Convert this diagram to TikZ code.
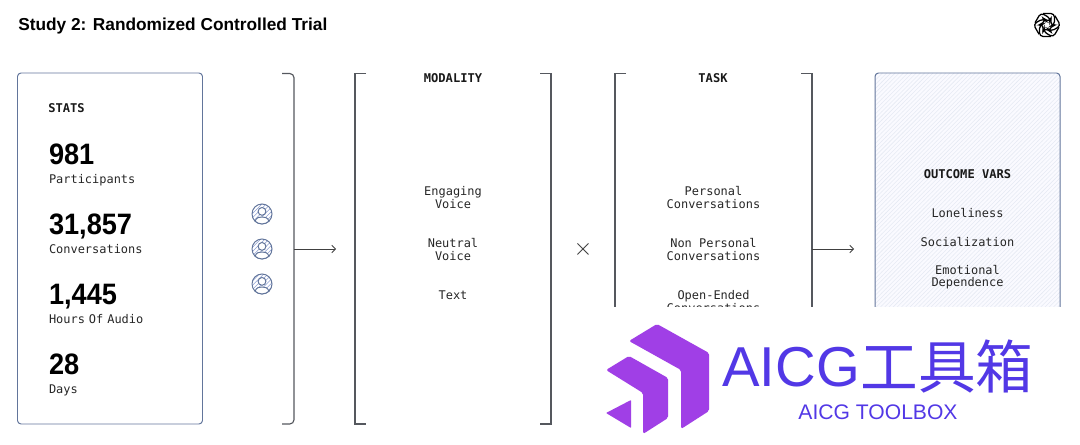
\documentclass[tikz,border=0pt]{standalone}
\usepackage{fontspec}
\usepackage{xcolor}
\usetikzlibrary{arrows.meta, positioning, patterns, calc}
\setmainfont{Liberation Sans}
\newfontfamily\monotext{DejaVu Sans Mono}
\newfontfamily\numtext[FakeStretch=0.92]{Liberation Sans}
\newfontfamily\logotext{Noto Sans CJK SC}
\definecolor{boxline}{HTML}{62759B}
\definecolor{hatchline}{HTML}{E6EAF3}
\definecolor{iconhatch}{HTML}{8E9FD2}
\definecolor{bracketline}{HTML}{55585E}
\definecolor{logopurple}{HTML}{A03FE6}
\definecolor{logoblue}{HTML}{5238E6}
\tikzstyle{statbox} = [rectangle, rounded corners=2.5pt, minimum width=185*0.025cm, minimum height=351*0.025cm, draw=boxline, line width=0.7pt, inner sep=0pt]
\tikzstyle{heading} = [font=\monotext\bfseries\fontsize{8.6}{9}\selectfont, text=black!90, inner sep=0pt]
\tikzstyle{bodytext} = [font=\monotext\fontsize{8.5}{8.7}\selectfont, text=black!85, align=center, inner sep=0pt]
\tikzstyle{statnum} = [font=\numtext\bfseries\fontsize{21}{21}\selectfont, text=black, text width=140*0.025cm, text height=15pt, text depth=3pt, inner sep=0pt]
\tikzstyle{statlab} = [font=\monotext\fontsize{8.5}{9}\selectfont, text=black!85, text width=140*0.025cm, text height=6.5pt, text depth=2pt, inner sep=0pt]
\tikzstyle{usericon} = [circle, minimum size=20*0.025cm, inner sep=0pt, draw=boxline, line width=0.7pt, pattern=north east lines, pattern color=iconhatch]
\tikzstyle{bracket} = [draw=bracketline, line width=0.8pt]
\tikzstyle{arrow} = [draw=black!75, line width=0.6pt, -{Straight Barb[length=2.6pt, width=5.5pt]}]
\begin{document}
\begin{tikzpicture}[x=0.025cm, y=-0.025cm, node distance=70*0.025cm]
\useasboundingbox (0,0) rectangle (1080,445);

% Title and mark
\node (title) [anchor=west, inner sep=0pt, font=\bfseries\fontsize{12.3}{14}\selectfont] at (18,26) {Study 2: Randomized Controlled Trial};
\coordinate (mark) at (1047,25);
\foreach \ang in {0,60,...,300} {
    \draw [black, line width=0.9pt, rounded corners=2.6pt, rotate around={\ang:(mark)}] ($(mark)+(-4,-11.5)$) -- ($(mark)+(7.5,-11.5)$) -- ($(mark)+(7.5,0)$) -- ($(mark)+(4,1)$) -- ($(mark)+(4,-7)$);
}

% Stats box (left)
\node (stats_box) [statbox] at (110,248.5) {};
\node (stats_head) [heading, anchor=west] at (48,108.5) {STATS};
\node (num_a) [statnum] at (119,156) {981};
\node (num_b) [statnum, below of=num_a] {31,857};
\node (num_c) [statnum, below of=num_b] {1,445};
\node (num_d) [statnum, below of=num_c] {28};
\node (lab_a) [statlab, below of=num_a, node distance=24*0.025cm] {Participants};
\node (lab_b) [statlab, below of=num_b, node distance=24*0.025cm] {Conversations};
\node (lab_c) [statlab, below of=num_c, node distance=24*0.025cm] {Hours Of Audio};
\node (lab_d) [statlab, below of=num_d, node distance=24*0.025cm] {Days};

% User icons
\foreach \who/\ypos in {a/214, b/249, c/284} {
    \node (user_\who) [usericon] at (262,\ypos) {};
    \draw [boxline, fill=white, line width=0.7pt] (262,\ypos-2.6) circle (3.9);
    \draw [boxline, fill=white, line width=0.7pt] (255,\ypos+7.2) .. controls (256.5,\ypos+3.4) and (259,\ypos+3) .. (262,\ypos+3) .. controls (265,\ypos+3) and (267.5,\ypos+3.4) .. (269,\ypos+7.2) .. controls (265,\ypos+10.8) and (259,\ypos+10.8) .. (255,\ypos+7.2);
}

% Brackets
\draw [bracket, rounded corners=3pt] (282,73.5) -- (294,73.5) -- (294,424) -- (282,424);
\draw [bracket] (366,73.5) -- (355,73.5) -- (355,424) -- (366,424);
\draw [bracket] (540,73.5) -- (551,73.5) -- (551,424) -- (540,424);
\draw [bracket] (626,73.5) -- (615,73.5) -- (615,424) -- (626,424);
\draw [bracket] (801,73.5) -- (812,73.5) -- (812,424) -- (801,424);

% Modality column
\node (mod_head) [heading] at (453,78.5) {MODALITY};
\node (mod_voice) [bodytext] at (453,197.5) {Engaging\\Voice};
\node (mod_neutral) [bodytext, below of=mod_voice, node distance=52*0.025cm] {Neutral\\Voice};
\node (mod_text) [bodytext] at (453,295) {Text};

% Times sign
\node (times) [inner sep=0pt, text=black!80, font=\fontsize{17}{17}\selectfont] at (583,249) {$\times$};

% Task column
\node (task_head) [heading] at (713,78.5) {TASK};
\node (task_personal) [bodytext] at (713.5,197.5) {Personal\\Conversations};
\node (task_non) [bodytext, below of=task_personal, node distance=52*0.025cm] {Non Personal\\Conversations};
\node (task_open) [bodytext, below of=task_non, node distance=52*0.025cm] {Open-Ended\\Conversations};

% Outcome box (right)
\node (out_box) [statbox, preaction={fill=blue!2}, pattern=north east lines, pattern color=hatchline] at (967.5,248.5) {};
\node (out_head) [heading] at (967.5,174) {OUTCOME VARS};
\node (out_lonely) [bodytext] at (967.5,213) {Loneliness};
\node (out_social) [bodytext, below of=out_lonely, node distance=29*0.025cm] {Socialization};
\node (out_emotion) [bodytext] at (967.5,277.5) {Emotional\\Dependence};

% Arrows
\coordinate (users_out) at (294,249);
\coordinate (users_end) at (336,249);
\coordinate (task_out) at (812,249);
\coordinate (task_end) at (854,249);
\draw [arrow] (users_out) -- (users_end);
\draw [arrow] (task_out) -- (task_end);

% Watermark
\fill [white] (590,307) rectangle (1080,445);
\fill [logopurple, rounded corners=1.2pt] (629,341) -- (657,324) -- (709,353) -- (709,411) -- (681,429) -- (681,370) -- cycle;
\fill [logopurple, rounded corners=1.2pt] (606,370) -- (629,356) -- (668,378) -- (668,418) -- (643,434) -- (643,393) -- cycle;
\fill [logopurple, rounded corners=0.5pt] (606,413) -- (631,400) -- (631,428) -- cycle;
\node (wm_latin) [anchor=west, inner sep=0pt, text=logoblue, font=\fontsize{40}{41}\selectfont] at (722,367) {AICG};
\node (wm_cjk) [right=0pt of wm_latin, inner sep=0pt, text=logoblue, font=\logotext\fontsize{41}{41}\selectfont] {工具箱};
\node (wm_sub) [inner sep=0pt, text=logoblue, font=\fontsize{15}{15}\selectfont] at (878,412) {AICG TOOLBOX};

\end{tikzpicture}
\end{document}
